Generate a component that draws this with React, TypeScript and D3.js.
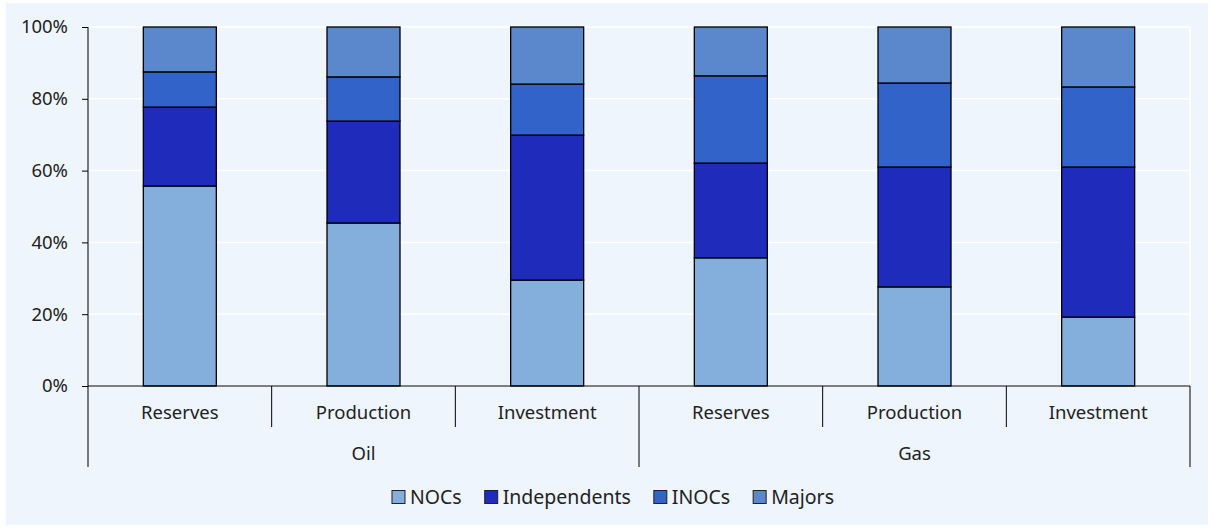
import { useEffect, useRef } from "react";
import * as d3 from "d3";

const groups = ["Oil", "Gas"];
const categories = ["Reserves", "Production", "Investment"];
const seriesNames = ["NOCs", "Independents", "INOCs", "Majors"];
const seriesColors = ["#84AEDC", "#1F2BBB", "#3163C8", "#5B88CD"];

// values per bar (Oil Reserves, Oil Production, Oil Investment, Gas Reserves, Gas Production, Gas Investment)
const nocs = [55.7, 45.4, 29.5, 35.7, 27.6, 19.2];
const independents = [22.0, 28.4, 40.4, 26.4, 33.4, 41.8];
const inocs = [9.8, 12.3, 14.2, 24.3, 23.4, 22.3];
const majors = [12.5, 13.9, 15.9, 13.6, 15.6, 16.7];

const yTicks = [0, 20, 40, 60, 80, 100];

export default function App() {
  const svgRef = useRef<SVGSVGElement>(null);

  useEffect(() => {
    const W = 1214;
    const H = 528;
    const svg = d3.select(svgRef.current);
    svg.selectAll("*").remove();
    svg.attr("width", W).attr("height", H)
      .style("display", "block")
      .style("position", "absolute")
      .style("left", "0px")
      .style("top", "0px");

    const font = "'Noto Sans', 'Open Sans', sans-serif";
    const margin = { top: 27, left: 88, right: 24, bottom: 142 };
    const plotW = W - margin.left - margin.right;
    const plotH = H - margin.top - margin.bottom;

    svg.append("rect")
      .attr("x", 6).attr("y", 3)
      .attr("width", W - 12).attr("height", H - 6)
      .attr("fill", "#EEF5FC");

    const g = svg.append("g").attr("transform", `translate(${margin.left},${margin.top})`);

    const bars = groups.flatMap(gr => categories.map(c => `${gr}|${c}`));
    const rows = bars.map((b, i) => ({
      key: b,
      NOCs: nocs[i],
      Independents: independents[i],
      INOCs: inocs[i],
      Majors: majors[i],
    }));

    const x = d3.scaleBand().domain(bars).range([0, plotW]).paddingInner(0).paddingOuter(0);
    const y = d3.scaleLinear().domain([0, 100]).range([plotH, 0]);
    const color = d3.scaleOrdinal<string, string>().domain(seriesNames).range(seriesColors);

    // gridlines
    g.append("g")
      .selectAll("line")
      .data(yTicks)
      .join("line")
      .attr("x1", 0).attr("x2", plotW)
      .attr("y1", d => y(d)).attr("y2", d => y(d))
      .attr("stroke", "#ffffff")
      .attr("stroke-width", 1.5);
    g.append("line")
      .attr("x1", plotW).attr("x2", plotW)
      .attr("y1", 0).attr("y2", plotH)
      .attr("stroke", "#ffffff").attr("stroke-width", 1.5);

    const stack = d3.stack<any>().keys(seriesNames);
    const stacked = stack(rows);
    const barW = 73;

    g.selectAll(".series")
      .data(stacked)
      .join("g")
      .attr("class", "series")
      .attr("fill", d => color(d.key))
      .selectAll("rect")
      .data(d => d)
      .join("rect")
      .attr("x", d => (x(d.data.key) as number) + x.bandwidth() / 2 - barW / 2)
      .attr("y", d => y(d[1]))
      .attr("width", barW)
      .attr("height", d => y(d[0]) - y(d[1]))
      .attr("stroke", "#000")
      .attr("stroke-width", 1.3);

    // y axis
    const yAxis = g.append("g").call(
      d3.axisLeft(y).tickValues(yTicks).tickFormat(d => `${d}%`).tickSize(6).tickPadding(14)
    );
    yAxis.select(".domain").remove();
    yAxis.selectAll("text")
      .attr("font-family", font)
      .attr("font-size", 18.5)
      .attr("fill", "#222");
    yAxis.selectAll("line").attr("stroke", "#000");

    g.append("line")
      .attr("x1", 0).attr("x2", 0)
      .attr("y1", 0).attr("y2", plotH + 81)
      .attr("stroke", "#000");

    // x axis baseline
    g.append("line")
      .attr("x1", 0).attr("x2", plotW)
      .attr("y1", plotH).attr("y2", plotH)
      .attr("stroke", "#000");

    // category separators
    bars.forEach((b, i) => {
      const xe = (x(b) as number) + x.bandwidth();
      const isGroupEnd = (i + 1) % categories.length === 0;
      g.append("line")
        .attr("x1", xe).attr("x2", xe)
        .attr("y1", plotH).attr("y2", plotH + (isGroupEnd ? 81 : 41))
        .attr("stroke", "#000");
    });

    // category labels
    g.append("g")
      .selectAll("text")
      .data(bars)
      .join("text")
      .attr("x", d => (x(d) as number) + x.bandwidth() / 2)
      .attr("y", plotH + 33)
      .attr("text-anchor", "middle")
      .attr("font-family", font)
      .attr("font-size", 18.5)
      .attr("fill", "#222")
      .text(d => d.split("|")[1]);

    // group labels
    g.append("g")
      .selectAll("text")
      .data(groups)
      .join("text")
      .attr("x", gr => {
        const first = x(`${gr}|${categories[0]}`) as number;
        return first + (x.bandwidth() * categories.length) / 2;
      })
      .attr("y", plotH + 74)
      .attr("text-anchor", "middle")
      .attr("font-family", font)
      .attr("font-size", 18.5)
      .attr("fill", "#222")
      .text(d => d);

    // legend
    const legend = svg.append("g").attr("transform", `translate(0, 497)`);
    const items = legend.selectAll("g")
      .data(seriesNames)
      .join("g");
    items.append("rect")
      .attr("width", 13).attr("height", 13)
      .attr("y", -6.5)
      .attr("fill", d => color(d))
      .attr("stroke", "#222")
      .attr("stroke-width", 1);
    items.append("text")
      .attr("x", 18)
      .attr("y", 0)
      .attr("dy", "0.35em")
      .attr("font-family", font)
      .attr("font-size", 19.5)
      .attr("fill", "#222")
      .text(d => d);

    // lay out legend items horizontally, centred
    const gap = 23;
    let cursor = 0;
    const widths: number[] = [];
    items.each(function () {
      widths.push((this as SVGGElement).getBBox().width);
    });
    const total = d3.sum(widths) + gap * (widths.length - 1);
    const start = 613 - total / 2;
    items.attr("transform", (_d, i) => {
      const pos = start + cursor;
      cursor += widths[i] + gap;
      return `translate(${pos},0)`;
    });
  }, []);

  return <svg ref={svgRef} />;
}
